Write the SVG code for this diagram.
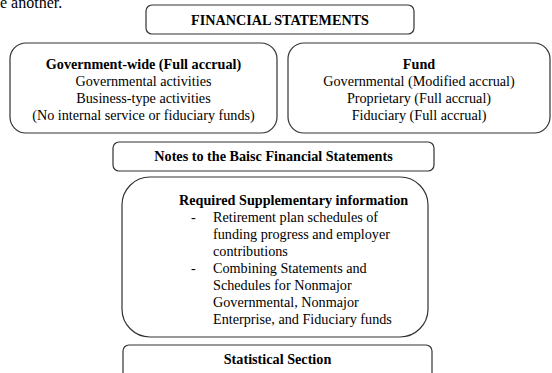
<svg xmlns="http://www.w3.org/2000/svg" width="552" height="373" viewBox="0 0 552 373">
<style>
.box{fill:#fff;stroke:#333;stroke-width:1.2}
text{font-family:"Liberation Serif","Times New Roman",serif;font-size:14.2px;fill:#000}
.b{font-weight:bold}
.c{text-anchor:middle}
</style>
<rect width="552" height="373" fill="#fff"/>
<text x="0" y="8" style="font-size:16px">e another.</text>
<g id="financial-statements">
<rect class="box" x="146" y="5" width="268" height="29" rx="6"/>
<text class="b c" x="280" y="25">FINANCIAL STATEMENTS</text>
</g>
<g id="government-wide">
<rect class="box" x="10" y="43" width="267" height="90" rx="16"/>
<text class="c" x="143.5" y="69"><tspan class="b">Government-wide (Full accrual)</tspan><tspan x="143.5" y="86">Governmental activities</tspan><tspan x="143.5" y="103">Business-type activities</tspan><tspan x="143.5" y="120">(No internal service or fiduciary funds)</tspan></text>
</g>
<g id="fund">
<rect class="box" x="288" y="43" width="262" height="90" rx="16"/>
<text class="c" x="419" y="69"><tspan class="b">Fund</tspan><tspan x="419" y="86">Governmental (Modified accrual)</tspan><tspan x="419" y="103">Proprietary (Full accrual)</tspan><tspan x="419" y="120">Fiduciary (Full accrual)</tspan></text>
</g>
<g id="notes">
<rect class="box" x="113" y="142" width="321" height="29" rx="6"/>
<text class="b c" x="273.5" y="161">Notes to the Baisc Financial Statements</text>
</g>
<g id="rsi">
<rect class="box" x="122" y="177" width="306" height="160" rx="28"/>
<text class="b" x="179" y="205">Required Supplementary information</text>
<text x="191" y="222">-</text>
<text x="191" y="273">-</text>
<text x="213" y="222">Retirement plan schedules of<tspan x="213" y="239">funding progress and employer</tspan><tspan x="213" y="256">contributions</tspan><tspan x="213" y="273">Combining Statements and</tspan><tspan x="213" y="290">Schedules for Nonmajor</tspan><tspan x="213" y="307">Governmental, Nonmajor</tspan><tspan x="213" y="324">Enterprise, and Fiduciary funds</tspan></text>
</g>
<g id="statistical">
<rect class="box" x="123" y="345" width="309" height="40" rx="6"/>
<text class="b c" x="277.5" y="364">Statistical Section</text>
</g>
</svg>
